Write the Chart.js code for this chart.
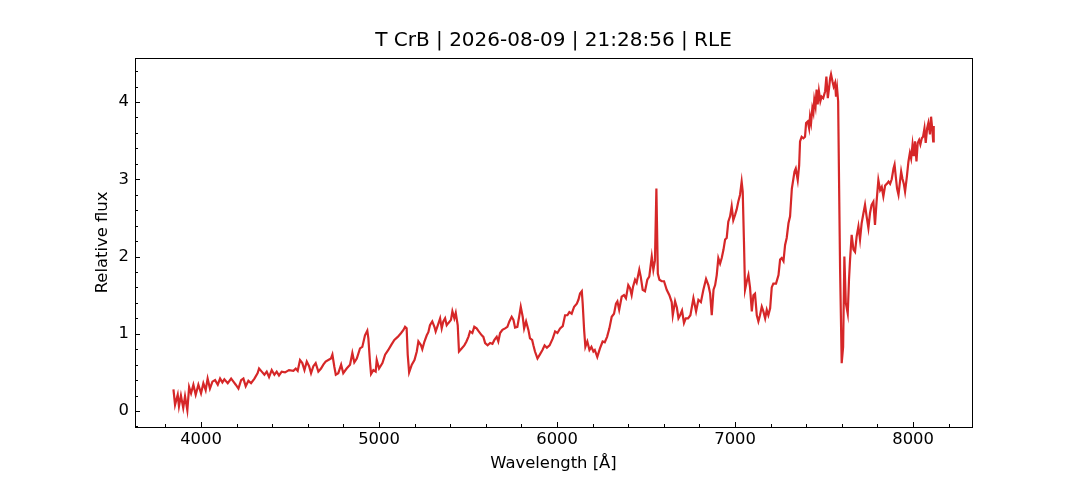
<!DOCTYPE html>
<html>
<head>
<meta charset="utf-8">
<script src="https://cdn.jsdelivr.net/npm/chart.js@4/dist/chart.umd.min.js"></script>
<style>
  html, body { margin: 0; padding: 0; background: #fff; }
  #wrap { width: 1080px; height: 480px; }
</style>
</head>
<body>
<div id="wrap"><canvas id="espectro" width="1080" height="480"></canvas></div>
<script>
// wavelength in Angstrom
const longitudes = [
  3845,3854,3869,3876,3887,3900,3910,3923,3933,3944,3957,3970,3985,4000,4013,4026,4037,4050,4064,4079,
  4094,4107,4120,4131,4150,4169,4182,4195,4210,4225,4238,4251,4266,4281,4300,4318,4326,4341,4356,4369,
  4382,4397,4412,4425,4438,4453,4472,4494,4519,4532,4543,4556,4569,4581,4594,4607,4618,4631,4644,4659,
  4674,4687,4700,4715,4730,4738,4749,4757,4771,4787,4799,4818,4837,4850,4861,4875,4893,4906,4921,4934,
  4940,4949,4955,4968,4981,4987,5000,5019,5034,5052,5067,5086,5105,5124,5137,5146,5155,5161,5169,5184,
  5199,5212,5221,5236,5243,5255,5268,5277,5286,5299,5311,5318,5330,5343,5352,5361,5371,5380,5390,5404,
  5412,5423,5431,5442,5449,5464,5479,5491,5502,5511,5524,5535,5548,5560,5577,5586,5596,5610,5624,5637,
  5648,5661,5670,5680,5693,5708,5721,5732,5745,5755,5764,5777,5787,5796,5807,5815,5826,5839,5848,5860,
  5867,5876,5890,5903,5918,5930,5943,5958,5976,5989,6002,6017,6032,6045,6058,6069,6082,6096,6111,6120,
  6129,6139,6144,6152,6159,6170,6182,6193,6204,6212,6226,6241,6256,6268,6281,6294,6307,6320,6331,6339,
  6349,6363,6376,6387,6400,6410,6419,6427,6438,6447,6462,6470,6481,6494,6507,6518,6532,6541,6550,6558,
  6566,6575,6588,6601,6616,6631,6644,6650,6663,6673,6682,6691,6702,6713,6723,6736,6749,6766,6781,6794,
  6808,6822,6837,6850,6860,6869,6879,6888,6897,6906,6916,6925,6935,6944,6953,6962,6972,6981,6990,7000,
  7009,7018,7028,7037,7043,7050,7056,7065,7075,7084,7094,7103,7112,7122,7131,7140,7150,7159,7169,7178,
  7187,7197,7206,7215,7230,7244,7253,7262,7272,7281,7290,7300,7309,7319,7334,7341,7352,7360,7365,7374,
  7384,7393,7399,7408,7416,7421,7427,7434,7440,7445,7452,7458,7464,7471,7479,7486,7495,7506,7513,7521,
  7528,7534,7539,7547,7554,7562,7567,7573,7579,7584,7590,7599,7607,7614,7622,7633,7640,7646,7655,7665,
  7674,7683,7693,7702,7711,7721,7730,7739,7749,7758,7767,7777,7786,7795,7805,7815,7824,7833,7843,7852,
  7862,7871,7880,7890,7896,7903,7910,7918,7925,7933,7940,7948,7955,7965,7974,7982,7989,7997,8004,8011,
  8019,8026,8034,8041,8049,8056,8064,8071,8079,8086,8095,8101,8109,8113,8116
];

// relative flux, same order
const flujo = [
  0.28,0.08,0.21,0.06,0.20,0.04,0.19,0.01,0.31,0.23,0.34,0.21,0.34,0.23,0.36,0.27,0.42,0.29,0.38,0.40,
  0.34,0.42,0.37,0.41,0.36,0.42,0.38,0.34,0.29,0.40,0.42,0.32,0.39,0.36,0.42,0.49,0.55,0.51,0.47,0.51,
  0.44,0.53,0.47,0.51,0.46,0.51,0.50,0.53,0.52,0.55,0.52,0.66,0.62,0.53,0.64,0.58,0.49,0.58,0.62,0.51,
  0.55,0.60,0.64,0.66,0.68,0.73,0.57,0.47,0.49,0.60,0.49,0.55,0.60,0.75,0.63,0.68,0.81,0.83,0.98,1.04,
  0.94,0.64,0.48,0.53,0.51,0.66,0.55,0.62,0.73,0.79,0.85,0.92,0.96,1.01,1.05,1.09,1.07,0.73,0.50,0.60,
  0.66,0.77,0.90,0.85,0.80,0.90,0.98,1.02,1.11,1.16,1.09,1.03,1.11,1.20,1.07,1.16,1.20,1.11,1.14,1.18,
  1.29,1.20,1.27,1.11,0.77,0.81,0.85,0.90,0.96,1.03,1.01,1.09,1.07,1.03,0.98,0.96,0.88,0.85,0.88,0.87,
  0.92,0.96,0.90,1.01,1.05,1.07,1.09,1.16,1.22,1.18,1.08,1.09,1.22,1.35,1.22,1.07,1.16,1.05,0.94,0.92,
  0.85,0.77,0.68,0.73,0.79,0.85,0.82,0.85,0.94,1.03,1.01,1.07,1.10,1.24,1.24,1.28,1.26,1.35,1.39,1.44,
  1.52,1.55,1.39,1.05,0.83,0.90,0.79,0.83,0.77,0.79,0.70,0.81,0.90,0.89,0.96,1.07,1.22,1.26,1.39,1.42,
  1.31,1.48,1.50,1.46,1.63,1.59,1.50,1.61,1.70,1.66,1.83,1.74,1.57,1.55,1.70,1.74,2.00,1.83,1.95,2.88,
  1.78,1.70,1.68,1.68,1.57,1.50,1.41,1.24,1.42,1.34,1.20,1.24,1.30,1.14,1.20,1.20,1.24,1.46,1.29,1.44,
  1.41,1.57,1.71,1.63,1.52,1.24,1.57,1.63,1.76,1.98,1.91,1.98,2.09,2.22,2.24,2.45,2.52,2.65,2.47,2.54,
  2.61,2.71,2.80,2.97,2.84,2.19,1.57,1.67,1.76,1.60,1.29,1.50,1.52,1.24,1.16,1.24,1.35,1.29,1.20,1.31,
  1.24,1.33,1.60,1.65,1.65,1.76,1.96,1.98,1.94,2.15,2.24,2.43,2.52,2.88,3.10,3.14,2.99,3.18,3.49,3.55,
  3.53,3.55,3.73,3.75,3.66,3.81,3.73,3.92,3.86,4.03,3.94,4.16,3.97,4.14,4.01,4.07,4.05,4.14,4.33,4.05,
  4.18,4.31,4.36,4.27,4.20,4.25,4.07,4.18,4.01,3.00,1.83,0.62,0.83,2.00,1.40,1.26,1.70,1.96,2.28,2.09,
  2.06,2.26,2.39,2.22,2.43,2.56,2.67,2.52,2.37,2.56,2.67,2.71,2.41,2.71,2.99,2.86,2.90,2.78,2.92,2.94,
  2.97,2.94,3.00,3.14,3.19,3.03,2.88,2.80,2.94,3.10,3.01,2.94,2.84,3.03,3.23,3.34,3.27,3.45,3.30,3.49,
  3.23,3.47,3.51,3.45,3.53,3.55,3.66,3.47,3.66,3.73,3.58,3.81,3.62,3.49,3.69
];

const ticksX = [4000, 5000, 6000, 7000, 8000];
const ticksY = [0, 1, 2, 3, 4];
const titulo = 'T CrB | 2026-08-09 | 21:28:56 | RLE';

const colorLinea = '#d62728';

Chart.defaults.font.family = '"DejaVu Sans", sans-serif';
Chart.defaults.color = '#000';

// frame around the axes plus inward ticks like matplotlib
const marcoTicks = {
  id: 'marcoTicks',
  afterDraw(chart) {
    const ctx = chart.ctx;
    const a = chart.chartArea;
    const sx = chart.scales.x;
    const sy = chart.scales.y;
    ctx.save();
    ctx.strokeStyle = '#000';
    ctx.lineWidth = 1;
    ctx.strokeRect(a.left + 0.5, a.top + 0.5, a.right - a.left, a.bottom - a.top);
    ctx.beginPath();
    for (let v = 3800; v <= 8200; v += 200) {
      const px = Math.round(sx.getPixelForValue(v)) + 0.5;
      if (px < a.left || px > a.right) continue;
      const len = v % 1000 === 0 ? 5 : 3;
      ctx.moveTo(px, a.bottom);
      ctx.lineTo(px, a.bottom - len);
    }
    for (let i = -1; i <= 22; i++) {
      const v = i * 0.2;
      const py = Math.round(sy.getPixelForValue(v)) + 0.5;
      if (py < a.top || py > a.bottom) continue;
      const len = i % 5 === 0 ? 5 : 3;
      ctx.moveTo(a.left, py);
      ctx.lineTo(a.left + len, py);
    }
    ctx.stroke();
    ctx.restore();
  }
};

const grafico = new Chart(document.getElementById('espectro'), {
  type: 'line',
  data: {
    datasets: [{
      data: longitudes.map((l, i) => ({x: l, y: flujo[i]})),
      borderColor: colorLinea,
      borderWidth: 2.2,
      pointRadius: 0,
      tension: 0,
      fill: false
    }]
  },
  options: {
    responsive: false,
    animation: false,
    devicePixelRatio: 1,
    layout: { padding: { left: 0, right: 108, top: 0, bottom: 0 } },
    plugins: {
      legend: { display: false },
      tooltip: { enabled: false },
      title: {
        display: true,
        fullSize: false,
        text: titulo,
        font: { size: 20, weight: 'normal' },
        color: '#000',
        padding: { top: 29, bottom: 5 }
      }
    },
    scales: {
      x: {
        type: 'linear',
        min: 3629,
        max: 8331,
        grid: { display: false, drawTicks: false },
        border: { display: false },
        ticks: { font: { size: 16.4 }, padding: 2.7, maxRotation: 0, includeBounds: false,
                 callback: v => String(v) },
        afterBuildTicks: s => { s.ticks = ticksX.map(v => ({value: v})); },
        afterFit: s => { s.height = 53; },
        title: {
          display: true,
          text: 'Wavelength [Å]',
          font: { size: 16.4 },
          padding: { top: 0, bottom: 6.2 }
        }
      },
      y: {
        type: 'linear',
        min: -0.207,
        max: 4.57,
        grid: { display: false, drawTicks: false },
        border: { display: false },
        ticks: { font: { size: 16.4 }, padding: 6, includeBounds: false,
                 callback: v => String(v) },
        afterBuildTicks: s => { s.ticks = ticksY.map(v => ({value: v})); },
        afterFit: s => { s.width = 135; },
        title: {
          display: true,
          text: 'Relative flux',
          font: { size: 16.4 },
          padding: { top: 92.7, bottom: 0 }
        }
      }
    }
  },
  plugins: [marcoTicks]
});
</script>
</body>
</html>
